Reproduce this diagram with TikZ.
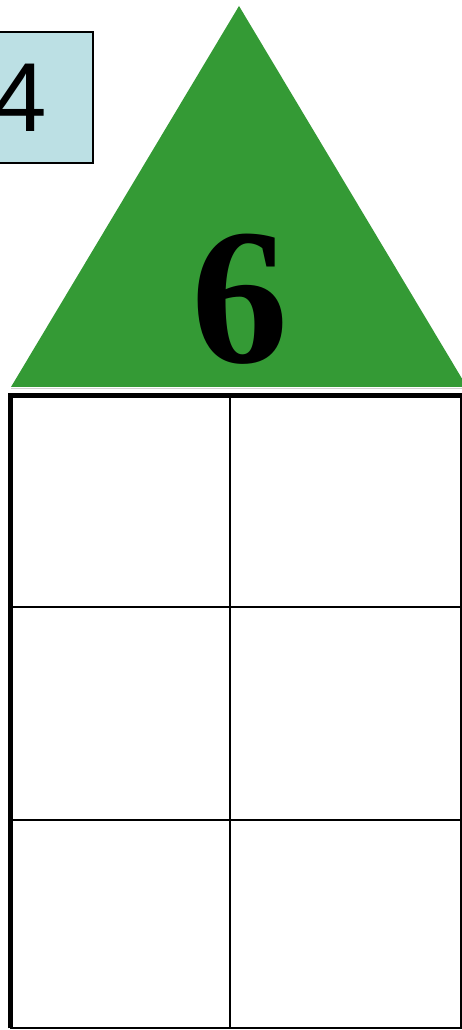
\documentclass[tikz,border=0pt]{standalone}
\usepackage{fontspec}
\newfontfamily\boxfont{Liberation Sans}
\newfontfamily\roofont{Liberation Serif}
\definecolor{roofgreen}{HTML}{349A35}
\definecolor{boxblue}{HTML}{BCE0E4}

\begin{document}
\begin{tikzpicture}[x=1pt,y=1pt]
  \useasboundingbox (0,0) rectangle (462,1030);
  \fill[roofgreen] (11,643) -- (239,1024) -- (467,643) -- cycle;
  \draw[gray!35,line width=1.5] (11,641.5) -- (467,641.5);
  \node[draw,fill=boxblue,line width=1.3,minimum width=146,minimum height=131,inner sep=0] (num) at (20,932.5) {\boxfont\fontsize{98}{98}\selectfont 4};
  \node[anchor=base,inner sep=0] (roof) at (240,667) {\roofont\bfseries\fontsize{194}{194}\selectfont 6};
  \foreach \y in {210,423} \draw[line width=2] (10,\y) -- (461,\y);
  \draw[line width=2] (230,634) -- (230,1.5);
  \draw[line width=2] (461,634) -- (461,1.5) -- (10,1.5);
  \draw[line width=5] (10.5,1.5) -- (10.5,634.5) -- (462,634.5);
\end{tikzpicture}
\end{document}
